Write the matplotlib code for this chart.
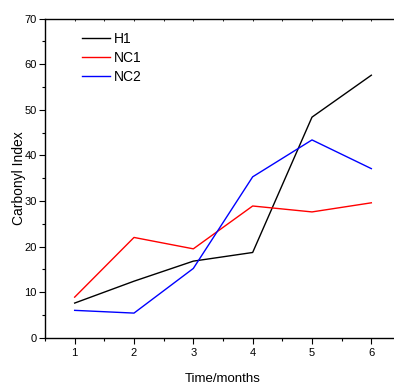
import matplotlib
matplotlib.use("Agg")
from matplotlib import pyplot as plt
from matplotlib.ticker import MultipleLocator

plt.rcParams['font.family'] = ['Liberation Sans', 'DejaVu Sans']

months = [1, 2, 3, 4, 5, 6]
h1 = [7.6, 12.4, 16.8, 18.7, 48.4, 57.6]
nc1 = [8.9, 22.0, 19.5, 28.9, 27.6, 29.6]
nc2 = [6.0, 5.4, 15.2, 35.3, 43.4, 37.1]

fig = plt.figure(figsize=(3.94, 3.85), dpi=100)
# right edge of the box falls just outside the picture, like the reference
ax = fig.add_axes([45/394, 1 - 337.7/385, (401 - 45)/394, (337.7 - 18.7)/385])

ax.plot(months, h1, color='black', lw=1.0, label='H1')
ax.plot(months, nc1, color='red', lw=1.0, label='NC1')
ax.plot(months, nc2, color='blue', lw=1.0, label='NC2')

ax.set_xlim(0.5, 6.5)
ax.set_ylim(0, 70)
ax.xaxis.set_major_locator(MultipleLocator(1))
ax.xaxis.set_minor_locator(MultipleLocator(0.5))
ax.yaxis.set_major_locator(MultipleLocator(10))
ax.yaxis.set_minor_locator(MultipleLocator(5))
ax.tick_params(which='both', direction='out', right=False, labelsize=8, width=0.8)
ax.tick_params(which='major', length=4, pad=2)
ax.tick_params(which='minor', length=2.5)
ax.tick_params(axis='x', which='major', pad=3.5)
# tiny inward ticks along the top edge
ax2 = ax.secondary_xaxis('top')
ax2.xaxis.set_major_locator(MultipleLocator(0.5))
ax2.tick_params(direction='in', length=1.5, width=0.6, labeltop=False)
ax2.spines['top'].set_visible(False)
for s in ax.spines.values():
    s.set_linewidth(1.0)

ax.set_xlabel('Time/months', fontsize=9.5, labelpad=11)
ax.set_ylabel('Carbonyl Index', fontsize=10, labelpad=-1)

ax.legend(loc='upper left', bbox_to_anchor=(0.07, 0.997), frameon=False, fontsize=10,
          handlelength=2.0, handletextpad=0.3, labelspacing=0.36)

fig.savefig('out.png', dpi=100)
